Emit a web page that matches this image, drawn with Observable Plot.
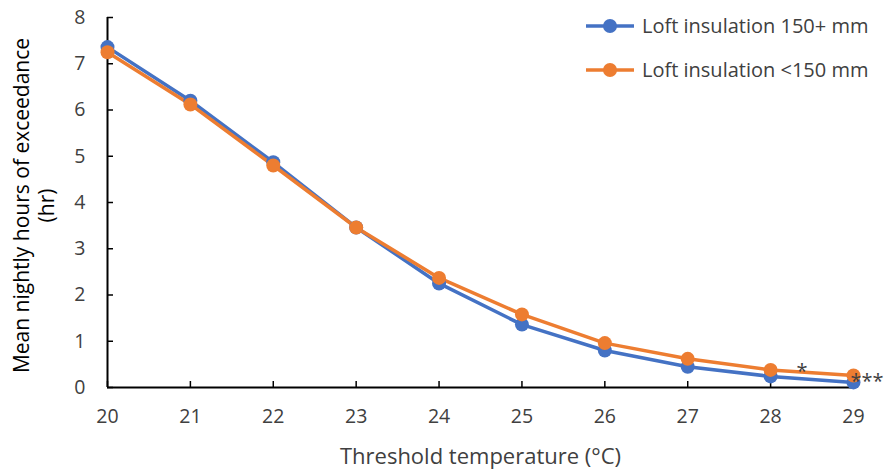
<!DOCTYPE html>
<html><head><meta charset="utf-8">
<script src="https://cdn.jsdelivr.net/npm/d3@7"></script>
<script src="https://cdn.jsdelivr.net/npm/@observablehq/plot@0.6"></script>
<style>
body{margin:0;background:#fff;font-family:"Open Sans","Liberation Sans",sans-serif;}
#wrap{position:relative;width:884px;height:469px;overflow:hidden;}
.leg{position:absolute;left:585px;font-size:20px;color:#404040;display:flex;align-items:center;white-space:nowrap;}
.leg svg{margin-right:7px;}
</style></head>
<body><div id="wrap"></div>
<script>
const temps = [20,21,22,23,24,25,26,27,28,29];
const loft150plus = [7.36,6.20,4.87,3.46,2.25,1.36,0.80,0.45,0.24,0.11];
const loftUnder150 = [7.25,6.12,4.80,3.46,2.37,1.58,0.96,0.62,0.38,0.26];
const seriesNames = ["Loft insulation 150+ mm","Loft insulation <150 mm"];
const seriesColors = ["#4472C4","#ED7D31"];
const yTicks = [0,1,2,3,4,5,6,7,8];
const annotX = [28.35, 29];
const annotY = [0.47, 0.26];
const annotText = ["*", "***"];

const rows = [];
temps.forEach((t,i)=>{ rows.push({t, v: loft150plus[i], s: seriesNames[0]}); });
temps.forEach((t,i)=>{ rows.push({t, v: loftUnder150[i], s: seriesNames[1]}); });
const annots = annotText.map((txt,i)=>({x: annotX[i], y: annotY[i], txt}));

const chart = Plot.plot({
  width: 884, height: 469,
  marginLeft: 107, marginRight: 31, marginTop: 17, marginBottom: 82,
  style: {fontFamily: "'Open Sans', 'Liberation Sans', sans-serif", fontSize: "19.5px", color: "#404040", background: "#fff", overflow: "visible"},
  x: {domain: [20,29]},
  y: {domain: [0,8]},
  color: {domain: seriesNames, range: seriesColors},
  marks: [
    Plot.axisY({ticks: yTicks, tickSize: -6, tickPadding: 28, label: null, stroke: "#000", strokeWidth: 1.5, color: "#404040", fontSize: 19.5}),
    Plot.axisX({ticks: temps, tickSize: -6, tickPadding: 28, label: null, stroke: "#000", strokeWidth: 1.5, color: "#404040", fontSize: 19.5}),
    Plot.ruleX([20], {stroke: "#000", strokeWidth: 2}),
    Plot.ruleY([0], {stroke: "#000", strokeWidth: 2}),
    Plot.line(rows, {x: "t", y: "v", z: "s", stroke: "s", strokeWidth: 3.5}),
    Plot.dot(rows, {x: "t", y: "v", fill: "s", r: 7}),
    Plot.text(annots, {x: "x", y: "y", text: "txt", textAnchor: "start", dx: -3, dy: 6, fontSize: 20, fill: "#404040"}),
    Plot.text(["Mean nightly hours of exceedance\n(hr)"], {frameAnchor: "left", rotate: -90, dx: -74, dy: 3, textAnchor: "middle", lineAnchor: "middle", fontSize: 21, lineHeight: 1.2, fill: "#000"}),
    Plot.text(["Threshold temperature (°C)"], {frameAnchor: "bottom", dy: 69, textAnchor: "middle", lineAnchor: "middle", fontSize: 22, fill: "#404040"})
  ]
});
const wrap = document.getElementById("wrap");
wrap.appendChild(chart);
seriesNames.forEach((n,i)=>{
  const d = document.createElement("div");
  d.className = "leg";
  d.style.top = (i===0 ? 12 : 56) + "px";
  d.innerHTML = `<svg width="50" height="24"><line x1="1" x2="49" y1="12" y2="12" stroke="${seriesColors[i]}" stroke-width="3.5"/><circle cx="25" cy="12" r="7" fill="${seriesColors[i]}"/></svg>`;
  const s = document.createElement("span"); s.textContent = n; d.appendChild(s);
  wrap.appendChild(d);
});
</script></body></html>
